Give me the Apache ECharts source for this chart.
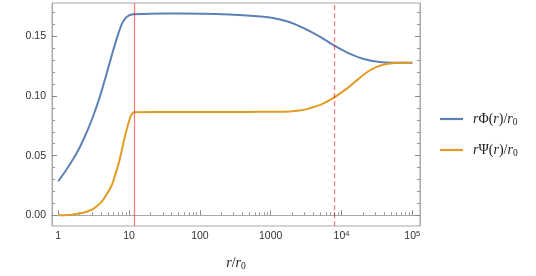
<!DOCTYPE html>
<html>
<head>
<meta charset="utf-8">
<script src="https://cdn.jsdelivr.net/npm/echarts@6/dist/echarts.min.js"></script>
<style>html,body{margin:0;padding:0;background:#fff}#c{width:536px;height:276px}</style>
</head>
<body>
<div id="c"></div>
<script>
// r / r0 sample points and values
const phiR = [1, 1.314, 1.613, 2.03, 2.65, 3.19, 3.92, 4.72, 5.73, 6.74, 7.94, 9.04, 9.97, 11.0, 11.7, 19.7, 52.4, 266, 510, 1077, 1873, 3225, 5478, 7840, 11840, 20130, 34970, 57000, 100000];
const phiV = [0.0285, 0.0386, 0.0469, 0.0575, 0.0726, 0.0849, 0.1005, 0.1169, 0.1347, 0.1488, 0.1607, 0.1657, 0.1677, 0.1684, 0.1686, 0.1690, 0.1692, 0.1684, 0.1673, 0.1655, 0.1618, 0.1556, 0.1482, 0.1424, 0.1366, 0.1313, 0.1285, 0.1280, 0.1280];
const psiR = [1, 1.24, 1.5, 1.94, 2.38, 2.99, 3.52, 4.14, 4.88, 5.74, 6.43, 7.13, 7.94, 8.83, 9.66, 10.4, 10.97, 11.7, 20, 100, 500, 1000, 1873, 2594, 3225, 4656, 5478, 7840, 11840, 15520, 20130, 25280, 31410, 38550, 48400, 67000, 100000];
const psiV = [0.0000, 0.0001, 0.0003, 0.0014, 0.0026, 0.0047, 0.0077, 0.0117, 0.0180, 0.0258, 0.0347, 0.0434, 0.0554, 0.0674, 0.0759, 0.0822, 0.0849, 0.0864, 0.0867, 0.0867, 0.0867, 0.0868, 0.0871, 0.0879, 0.0890, 0.0919, 0.0937, 0.0987, 0.1062, 0.1119, 0.1174, 0.1216, 0.1244, 0.1262, 0.1273, 0.1279, 0.1280];
const seriesNames = ['phi', 'psi'];
const xMajorTicks = [1, 10, 100, 1000, 10000, 100000];
const xMinorTicks = [2,3,4,5,6,7,8,9,20,30,40,50,60,70,80,90,200,300,400,500,600,700,800,900,2000,3000,4000,5000,6000,7000,8000,9000,20000,30000,40000,50000,60000,70000,80000,90000];
const yMajorTicks = [0, 0.05, 0.10, 0.15];
const yMinorTicks = [0.01,0.02,0.03,0.04,0.06,0.07,0.08,0.09,0.11,0.12,0.13,0.14,0.16,0.17];
const vLineSolid = 11.7;
const vLineDashed = 7840;

const xMin = 0.815, xMax = 128500, yMin = -0.009, yMax = 0.178;
const frameColor = '#a8a8a8';
const labelFont = {color: '#333', fontSize: 10.5, fontFamily: 'Liberation Sans, Arial, sans-serif'};
const serif = 'Liberation Serif, DejaVu Serif, serif';

function xLabel(v) {
  const e = Math.round(Math.log10(v));
  if (e >= 4) return '{b|10}{s|' + e + '}';
  return '{b|' + String(Math.round(v)) + '}';
}

const chart = echarts.init(document.getElementById('c'), null, {renderer: 'canvas'});
const mathRich = {
  i: {fontFamily: serif, fontStyle: 'italic', fontSize: 14, color: '#222'},
  u: {fontFamily: serif, fontSize: 14, color: '#222'},
  sub: {fontFamily: serif, fontSize: 9.5, color: '#222', verticalAlign: 'bottom', lineHeight: 16}
};
chart.setOption({
  animation: false,
  grid: {left: 52, right: 116, top: 3, bottom: 46, show: true, borderColor: frameColor, borderWidth: 1, backgroundColor: 'transparent'},
  legend: {
    orient: 'vertical', left: 440, top: 112, padding: 0, itemWidth: 23, itemHeight: 2.2, itemGap: 16,
    icon: 'rect',
    data: seriesNames,
    formatter: function (n) {
      return n === 'phi' ? '{i|r}{u|Φ(}{i|r}{u|)/}{i|r}{sub|0}' : '{i|r}{u|Ψ(}{i|r}{u|)/}{i|r}{sub|0}';
    },
    textStyle: {padding: [0, 0, 0, 5], rich: mathRich}
  },
  xAxis: [
    {
      type: 'log', logBase: 10, min: xMin, max: xMax, position: 'bottom',
      name: '{i|r}{u|/}{i|r}{sub|0}', nameLocation: 'middle', nameGap: 29,
      nameTextStyle: {rich: mathRich},
      axisLine: {show: true, lineStyle: {color: frameColor}},
      axisTick: {show: true, inside: true, length: 5, customValues: xMajorTicks, lineStyle: {color: '#888'}},
      axisLabel: {show: true, margin: 4, customValues: xMajorTicks, formatter: xLabel,
        rich: {b: Object.assign({}, labelFont, {lineHeight: 13}), s: Object.assign({}, labelFont, {fontSize: 7.5, verticalAlign: 'top', lineHeight: 13})}},
      splitLine: {show: false}, minorTick: {show: false}
    },
    {
      type: 'log', logBase: 10, min: xMin, max: xMax, position: 'bottom',
      axisLine: {show: false},
      axisTick: {show: true, inside: true, length: 3, customValues: xMinorTicks, lineStyle: {color: '#999'}},
      axisLabel: {show: false}, splitLine: {show: false}
    }
  ],
  yAxis: [
    {
      type: 'value', min: yMin, max: yMax, position: 'left',
      axisLine: {show: true, lineStyle: {color: frameColor}},
      axisTick: {show: true, inside: true, length: 5, customValues: yMajorTicks, lineStyle: {color: '#888'}},
      axisLabel: Object.assign({show: true, margin: 6, customValues: yMajorTicks, formatter: v => v.toFixed(2)}, labelFont),
      splitLine: {show: false}
    },
    {
      type: 'value', min: yMin, max: yMax, position: 'left',
      axisLine: {show: false},
      axisTick: {show: true, inside: true, length: 3, customValues: yMinorTicks, lineStyle: {color: '#999'}},
      axisLabel: {show: false}, splitLine: {show: false}
    },
    {
      type: 'value', min: yMin, max: yMax, position: 'right',
      axisLine: {show: true, lineStyle: {color: frameColor}},
      axisTick: {show: true, inside: true, length: 5, customValues: yMajorTicks, lineStyle: {color: '#888'}},
      axisLabel: {show: false}, splitLine: {show: false}
    },
    {
      type: 'value', min: yMin, max: yMax, position: 'right',
      axisLine: {show: false},
      axisTick: {show: true, inside: true, length: 3, customValues: yMinorTicks, lineStyle: {color: '#999'}},
      axisLabel: {show: false}, splitLine: {show: false}
    }
  ],
  series: [
    {
      name: 'phi', type: 'line', xAxisIndex: 0, yAxisIndex: 0, symbol: 'none', smooth: 0.25,
      lineStyle: {color: '#5E81B5', width: 2}, itemStyle: {color: '#5E81B5'},
      data: phiR.map((r, i) => [r, phiV[i]]),
      markLine: {
        silent: true, symbol: 'none', label: {show: false},
        data: [
          {xAxis: vLineSolid, lineStyle: {color: 'rgba(255,0,0,0.5)', width: 1.3, type: 'solid'}},
          {xAxis: vLineDashed, lineStyle: {color: 'rgba(255,0,0,0.5)', width: 1.3, type: [5, 3]}}
        ]
      },
      z: 3
    },
    {
      name: 'psi', type: 'line', xAxisIndex: 0, yAxisIndex: 0, symbol: 'none', smooth: 0.25,
      lineStyle: {color: '#E19C24', width: 2}, itemStyle: {color: '#E19C24'},
      data: psiR.map((r, i) => [r, psiV[i]]),
      z: 3
    }
  ]
});
</script>
</body>
</html>
